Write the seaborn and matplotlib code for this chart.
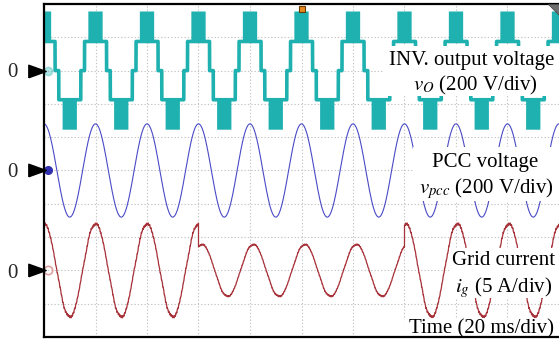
import numpy as np
import pandas as pd
import matplotlib
matplotlib.use("Agg")
import matplotlib.pyplot as plt
from matplotlib.patches import Rectangle, Polygon
import seaborn as sns

# ---------------- values ----------------
ms_per_div = 20          # Time (20 ms/div)
v_per_div = 200          # 200 V/div
a_per_div = 5            # 5 A/div
n_xdiv = 10
n_ydiv = 10
period_ms = 20           # 50 Hz fundamental

channel_names = ["vo", "vpcc", "ig"]
channel_zero_div = [8, 5, 2]          # zero level of each trace (div from bottom)

# INV. output voltage: staircase, angles measured from the positive peak
vo_step_edges_deg = [50, 77]          # <50: PWM band lvl1..lvl2, 50-77: lvl1, 77-103: 0
vo_levels_v = [0, 175, 355]

# PCC voltage
vpcc_peak_v = 280
vpcc_lag_ms = 0.0

# Grid current: three segments (full / reduced / full)
ig_seg_start_ms = [0, 60, 140]
ig_seg_end_ms = [60, 140, 205]
ig_seg_peak_a = [7.0, 3.9, 7.0]
ig_seg_lag_ms = [0.0, 1.3, 0.5]
ig_ripple_order = [5, 7, 37, 73]
ig_ripple_frac = [0.012, 0.01, 0.015, 0.012]

label_inv = ["INV. output voltage", r"$v_O$ (200 V/div)"]
label_pcc = ["PCC voltage", r"$v_{pcc}$ (200 V/div)"]
label_ig = ["Grid current", r"$i_g$ (5 A/div)"]
label_time = "Time (20 ms/div)"
zero_label = "0"

# ---------------- styling ----------------
sns.set_theme(style="white")
plt.rcParams["font.family"] = ["Liberation Serif", "DejaVu Serif"]
plt.rcParams["mathtext.fontset"] = "stix"

TEAL = "#1fb1b0"
BLUE = "#4a4ac6"
RED = "#a8323a"

W, H = 559, 341
fig = plt.figure(figsize=(W / 100, H / 100), dpi=100)
fig.patch.set_facecolor("white")

# plot area in pixels: left 44, top 4, bottom 337, 51.5 px per x-div, 33.3 px per y-div
L_PX, T_PX, B_PX = 44, 4, 337
XDIV_PX = 51.5
YDIV_PX = (B_PX - T_PX) / n_ydiv
R_PX = 566
ax = fig.add_axes([L_PX / W, (H - B_PX) / H, (R_PX - L_PX) / W, (B_PX - T_PX) / H])
xmax = (R_PX - L_PX) / XDIV_PX * ms_per_div
ax.set_xlim(0, xmax)
ax.set_ylim(0, n_ydiv)


def px2x(px):
    return (px - L_PX) / XDIV_PX * ms_per_div


def px2y(py):
    return (B_PX - py) / YDIV_PX


# ---------------- build traces ----------------
t = np.linspace(0, xmax, 60001)
ang = np.abs(((t / period_ms + 0.5) % 1.0 - 0.5) * 360.0)
a_deg, b_deg = vo_step_edges_deg
l0, l1, l2 = vo_levels_v
vo_line = np.where(ang < b_deg, l1, np.where(ang < 180 - b_deg, l0, -l1))
z_vo, z_pcc, z_ig = channel_zero_div

vpcc = vpcc_peak_v * np.cos(2 * np.pi * (t - vpcc_lag_ms) / period_ms)

ig = np.zeros_like(t)
for s, e, pk, lag in zip(ig_seg_start_ms, ig_seg_end_ms, ig_seg_peak_a, ig_seg_lag_ms):
    m = (t >= s) & (t < e)
    ph = 2 * np.pi * (t[m] - lag) / period_ms
    base = np.cos(ph)
    for o, f in zip(ig_ripple_order, ig_ripple_frac):
        base = base + f * np.cos(o * ph + 0.7 * o)
    ig[m] = pk * base

df = pd.DataFrame({
    "t": t,
    "vo": z_vo + vo_line / v_per_div,
    "vpcc": z_pcc + vpcc / v_per_div,
    "ig": z_ig + ig / a_per_div,
})

# PWM bands of the inverter voltage
pos_band = ang < a_deg
neg_band = ang > 180 - a_deg
ax.fill_between(t, z_vo + l1 / v_per_div, z_vo + l2 / v_per_div, where=pos_band,
                color=TEAL, lw=0, zorder=2)
ax.fill_between(t, z_vo - l2 / v_per_div, z_vo - l1 / v_per_div, where=neg_band,
                color=TEAL, lw=0, zorder=2)

sns.lineplot(data=df, x="t", y="vo", ax=ax, color=TEAL, lw=2.6, estimator=None,
             sort=False, zorder=2)
sns.lineplot(data=df, x="t", y="vpcc", ax=ax, color=BLUE, lw=0.8, estimator=None,
             sort=False, zorder=3)
sns.lineplot(data=df, x="t", y="ig", ax=ax, color=RED, lw=0.9, estimator=None,
             sort=False, zorder=3)

# ---------------- grid / frame ----------------
ax.set_xticks(np.arange(0, n_xdiv + 1) * ms_per_div)
ax.set_yticks(np.arange(0, n_ydiv + 1))
ax.grid(True, color="#c4c4c4", lw=0.8, ls=(0, (1.2, 1.8)))
ax.set_axisbelow(True)
ax.tick_params(length=0, labelbottom=False, labelleft=False)
ax.set_xlabel("")
ax.set_ylabel("")
for side in ["left", "top", "bottom"]:
    ax.spines[side].set_visible(True)
    ax.spines[side].set_color("black")
    ax.spines[side].set_linewidth(1.6)
    ax.spines[side].set_zorder(7)
ax.spines["right"].set_visible(False)

# ---------------- white label boxes + labels ----------------
def white_box(x0, y0, x1, y1):
    ax.add_patch(Rectangle((px2x(x0), px2y(y1)), px2x(x1) - px2x(x0), px2y(y0) - px2y(y1),
                           facecolor="white", edgecolor="none", zorder=4))


white_box(384, 46, 570, 96)
white_box(413, 147, 570, 201)
white_box(449, 248, 570, 298)
white_box(404, 318, 570, 336)

FS = 15
txt = dict(fontsize=FS, color="black", ha="center", va="baseline", zorder=6)
ax.text(px2x(471.5), px2y(65), label_inv[0], **txt)
ax.text(px2x(475), px2y(90), label_inv[1], **txt)
ax.text(px2x(485.5), px2y(167), label_pcc[0], **txt)
ax.text(px2x(486.5), px2y(193), label_pcc[1], **txt)
ax.text(px2x(504), px2y(265), label_ig[0], **txt)
ax.text(px2x(503.5), px2y(292), label_ig[1], **txt)
ax.text(px2x(481.5), px2y(333), label_time, **txt)

# ---------------- zero markers on the left ----------------
tri = [(-1, -0.72), (1, 0), (-1, 0.72), (-1, -0.72)]
zero_px = [71, 171, 272]
chan_colors = [TEAL, BLUE, RED]
for zdiv, zpx, col in zip(channel_zero_div, zero_px, chan_colors):
    ax.plot([px2x(36.5)], [zdiv], marker=tri, ms=12.5, color="black", mec="black",
            clip_on=False, zorder=8)
    ax.text(px2x(12), px2y(zpx + 6.5), zero_label, fontsize=FS, ha="center",
            va="baseline", clip_on=False)

# channel blobs at the left edge
ax.plot([px2x(48)], [z_vo], marker="o", ms=6, mfc=TEAL, mec=TEAL, alpha=0.35,
        clip_on=False, zorder=5)
ax.plot([px2x(48)], [z_pcc], marker="o", ms=5.5, mfc="#2f2fb0", mec="#2f2fb0",
        clip_on=False, zorder=5)
ax.plot([px2x(48)], [z_ig], marker="o", ms=6, mfc="none", mec="#e0a0a0", mew=1.2,
        clip_on=False, zorder=5)

# trigger marker at top and corner marker
ax.plot([px2x(301.5)], [px2y(9)], marker="s", ms=5, mfc="#e58a1f", mec="#6a3a00",
        mew=0.8, clip_on=False, zorder=8)
ax.add_patch(Polygon([(px2x(548), px2y(4)), (px2x(559), px2y(4)), (px2x(559), px2y(15))],
                     closed=True, facecolor="#6e6e6e", edgecolor="#4a4a4a", lw=0.6,
                     zorder=8, clip_on=False))

fig.savefig("out.png", dpi=100, facecolor="white")
